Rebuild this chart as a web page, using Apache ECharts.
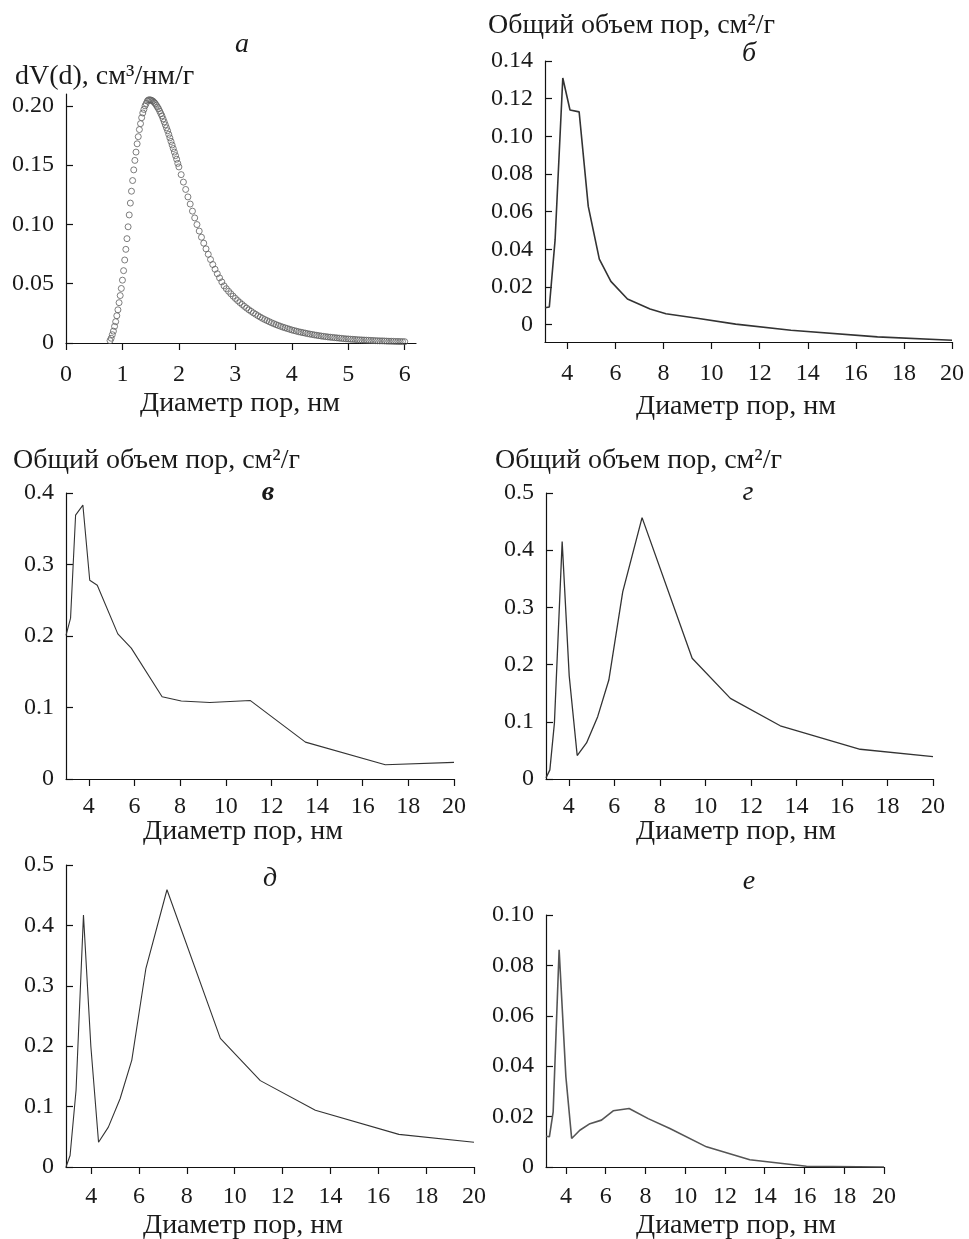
<!DOCTYPE html>
<html><head><meta charset="utf-8">
<script src="https://cdn.jsdelivr.net/npm/echarts@6/dist/echarts.min.js"></script>
<style>html,body{margin:0;padding:0;background:#fff}#c{width:969px;height:1239px}</style>
</head><body><div id="c"></div>
<script>
// ---------- DATA ----------
// panel а: dV(d) vs pore diameter (scatter of hollow circles)
const aDiameter = [
  0.78,0.80,0.82,0.84,0.86,0.88,0.90,0.92,0.94,0.96,0.98,1.00,1.02,1.04,1.06,1.08,1.10,1.12,1.14,1.16,1.18,1.20,1.22,1.24,1.26,1.28,1.30,1.32,1.34,1.36,1.38,1.40,1.42,1.44,1.46,1.48,
  1.50,1.52,1.54,1.56,1.58,1.60,1.62,1.64,1.66,1.68,1.70,1.72,1.74,1.76,1.78,1.80,1.82,1.84,1.86,1.88,1.90,1.92,1.94,1.96,1.98,2.00,
  2.04,2.08,2.12,2.16,2.20,2.24,2.28,2.32,2.36,2.40,2.44,2.48,2.52,2.56,2.60,2.64,2.68,2.72,2.76,2.80,
  2.84,2.88,2.92,2.96,3.00,3.04,3.08,3.12,3.16,3.20,3.24,3.28,3.32,3.36,3.40,3.44,3.48,3.52,3.56,3.60,
  3.64,3.68,3.72,3.76,3.80,3.84,3.88,3.92,3.96,4.00,4.04,4.08,4.12,4.16,4.20,4.24,4.28,4.32,4.36,4.40,
  4.44,4.48,4.52,4.56,4.60,4.64,4.68,4.72,4.76,4.80,4.84,4.88,4.92,4.96,5.00,5.04,5.08,5.12,5.16,5.20,
  5.24,5.28,5.32,5.36,5.40,5.44,5.48,5.52,5.56,5.60,5.64,5.68,5.72,5.76,5.80,5.84,5.88,5.92,5.96,6.00
];
const aVolume = [
  0.002,0.004,0.007,0.010,0.014,0.018,0.023,0.028,0.034,0.040,0.046,0.053,0.061,0.070,0.079,0.088,0.098,0.108,0.118,0.128,0.137,0.146,0.154,0.161,0.168,0.174,0.180,0.185,0.190,0.194,0.197,0.200,0.202,0.204,0.205,0.205,
  0.205,0.2045,0.204,0.203,0.202,0.2005,0.199,0.1975,0.1955,0.1935,0.1915,0.189,0.1865,0.184,0.1815,0.179,0.176,0.173,0.170,0.167,0.164,0.161,0.158,0.155,0.1515,0.1485,
  0.142,0.1357,0.1295,0.1232,0.1172,0.1112,0.1055,0.0999,0.0944,0.0892,0.0842,0.0794,0.0748,0.0704,0.0662,0.0622,0.0584,0.0549,0.0515,0.0482,
  0.0458,0.0436,0.0415,0.0395,0.0376,0.0358,0.0341,0.0325,0.0309,0.0294,0.0280,0.0267,0.0254,0.0242,0.0230,0.0219,0.0208,0.0198,0.0189,0.0180,
  0.0171,0.0163,0.0155,0.0148,0.0141,0.0134,0.0128,0.0122,0.0116,0.0110,0.0105,0.0100,0.0095,0.0091,0.0087,0.0083,0.0079,0.0075,0.0072,0.0068,
  0.0065,0.0062,0.0059,0.0056,0.0054,0.0051,0.0049,0.0047,0.0045,0.0043,0.0041,0.0039,0.0037,0.0035,0.0034,0.0032,0.0031,0.0030,0.0028,0.0027,
  0.0026,0.0025,0.0024,0.0023,0.0022,0.0021,0.0020,0.0019,0.0018,0.0018,0.0017,0.0016,0.0015,0.0015,0.0014,0.0013,0.0013,0.0012,0.0012,0.0011
];
// panel б
const bDiameter = [3.07,3.25,3.49,3.81,4.11,4.49,4.87,5.33,5.81,6.50,7.44,8.10,9.40,11.0,13.3,16.9,20.0];
const bVolume   = [0.009,0.0094,0.045,0.131,0.114,0.113,0.0628,0.0348,0.023,0.0136,0.0083,0.0058,0.0034,0.0003,-0.003,-0.0065,-0.0083];
// panel в
const vDiameter = [3.0,3.2,3.42,3.74,4.04,4.37,5.27,5.86,7.21,8.05,9.3,11.08,13.49,16.99,20.0];
const vVolume   = [0.201,0.225,0.369,0.383,0.278,0.271,0.203,0.183,0.115,0.109,0.107,0.1097,0.0516,0.020,0.0232];
// panel г
const gDiameter = [3.0,3.17,3.37,3.71,4.02,4.37,4.78,5.27,5.76,6.37,7.22,9.42,11.1,13.29,16.8,20.0];
const gVolume   = [0.002,0.016,0.098,0.415,0.18,0.041,0.063,0.109,0.173,0.327,0.457,0.211,0.141,0.093,0.052,0.039];
// panel д
const dDiameter = [2.95,3.12,3.37,3.68,3.99,4.31,4.72,5.21,5.70,6.29,7.17,9.40,11.07,13.37,16.86,20.0];
const dVolume   = [0.0,0.019,0.127,0.417,0.199,0.041,0.066,0.113,0.177,0.329,0.459,0.213,0.143,0.094,0.054,0.041];
// panel е
const eDiameter = [3.0,3.17,3.36,3.66,4.0,4.29,4.70,5.21,5.79,6.38,7.18,8.14,9.23,11.07,13.25,16.1,20.0];
const eVolume   = [0.0122,0.012,0.0219,0.0862,0.0358,0.0113,0.0146,0.0172,0.0186,0.0223,0.0232,0.0192,0.0153,0.008,0.0029,0.0003,0.0];

// tick values and labels
const aXTicks = [0,1,2,3,4,5,6];
const aXLabels = ['0','1','2','3','4','5','6'];
const aYTicks = [0,0.05,0.10,0.15,0.20];
const aYLabels = ['0','0.05','0.10','0.15','0.20'];
const dXTicks = [4,6,8,10,12,14,16,18,20];
const dXLabels = ['4','6','8','10','12','14','16','18','20'];
const bYTicks = [0,0.02,0.04,0.06,0.08,0.10,0.12,0.14];
const bYLabels = ['0','0.02','0.04','0.06','0.08','0.10','0.12','0.14'];
const vYTicks = [0,0.1,0.2,0.3,0.4];
const vYLabels = ['0','0.1','0.2','0.3','0.4'];
const gYTicks = [0,0.1,0.2,0.3,0.4,0.5];
const gYLabels = ['0','0.1','0.2','0.3','0.4','0.5'];
const eYTicks = [0,0.02,0.04,0.06,0.08,0.10];
const eYLabels = ['0','0.02','0.04','0.06','0.08','0.10'];

const xTitle = 'Диаметр пор, нм';
const yTitleA = 'dV(d), см³/нм/г';
const yTitleOther = 'Общий объем пор, см²/г';
const panelLetters = ['а','б','в','г','д','е'];

// ---------- CHART ----------
const FONT = "'Liberation Serif','DejaVu Serif',serif";
const chart = echarts.init(document.getElementById('c'), null, {renderer:'canvas'});

function lookup(ticks, labels){
  return function(v){
    for (let i=0;i<ticks.length;i++) if (Math.abs(ticks[i]-v) < 1e-9) return labels[i];
    return '';
  };
}
function xAxis(gi, min, max, ticks, labels, margin){
  return {
    type:'value', gridIndex:gi, min:min, max:max,
    axisLine:{show:true, onZero:false, lineStyle:{color:'#111', width:1.2}},
    axisTick:{show:true, inside:false, length:7, customValues:ticks, lineStyle:{color:'#111', width:1.2}},
    axisLabel:{show:true, customValues:ticks, formatter:lookup(ticks,labels), margin:margin,
      fontFamily:FONT, fontSize:24, color:'#1a1a1a'},
    splitLine:{show:false}
  };
}
function yAxis(gi, min, max, ticks, labels){
  return {
    type:'value', gridIndex:gi, min:min, max:max,
    axisLine:{show:true, onZero:false, lineStyle:{color:'#111', width:1.2}},
    axisTick:{show:true, inside:true, length:7, customValues:ticks, lineStyle:{color:'#111', width:1.2}},
    axisLabel:{show:true, customValues:ticks, formatter:lookup(ticks,labels), margin:12,
      fontFamily:FONT, fontSize:24, color:'#1a1a1a'},
    splitLine:{show:false}
  };
}
function zip(xs, ys){ return xs.map((x,i)=>[x, ys[i]]); }
function lineSeries(gi, xs, ys, color, w){
  return {type:'line', xAxisIndex:gi, yAxisIndex:gi, data:zip(xs,ys), symbol:'none', showSymbol:false,
    lineStyle:{color:color, width:w}, silent:true, smooth:false};
}
function txt(x, y, text, opts){
  opts = opts || {};
  return {type:'text', x:x, y:y, silent:true, style:{
    text:text, fill:'#1a1a1a', fontFamily:FONT, fontSize:opts.size||28,
    fontStyle:opts.italic?'italic':'normal', fontWeight:opts.bold?'bold':'normal',
    textAlign:opts.align||'center', align:opts.align||'center',
    textVerticalAlign:'middle', verticalAlign:'middle'}};
}

const option = {
  animation:false,
  backgroundColor:'#fff',
  grid:[
    {left:66, top:94, width:350, height:249},
    {left:545, top:61, width:407, height:281},
    {left:66, top:493, width:388, height:286},
    {left:546, top:493, width:387, height:286},
    {left:66, top:865, width:408, height:302},
    {left:546, top:915, width:338, height:252}
  ],
  xAxis:[
    xAxis(0, 0, 6.2, aXTicks, aXLabels, 20),
    xAxis(1, 3.07, 20, dXTicks, dXLabels, 20),
    xAxis(2, 3, 20, dXTicks, dXLabels, 16),
    xAxis(3, 3, 20, dXTicks, dXLabels, 16),
    xAxis(4, 2.95, 20, dXTicks, dXLabels, 18),
    xAxis(5, 3, 20, dXTicks, dXLabels, 18)
  ],
  yAxis:[
    yAxis(0, 0, 0.21, aYTicks, aYLabels),
    yAxis(1, -0.0092, 0.14, bYTicks, bYLabels),
    yAxis(2, 0, 0.4, vYTicks, vYLabels),
    yAxis(3, 0, 0.5, gYTicks, gYLabels),
    yAxis(4, 0, 0.5, gYTicks, gYLabels),
    yAxis(5, 0, 0.10, eYTicks, eYLabels)
  ],
  series:[
    {type:'scatter', xAxisIndex:0, yAxisIndex:0, data:zip(aDiameter,aVolume), symbol:'circle', symbolSize:6,
     itemStyle:{color:'rgba(255,255,255,0)', borderColor:'#5e5e5e', borderWidth:1}, silent:true},
    lineSeries(1, bDiameter, bVolume, '#333', 1.6),
    lineSeries(2, vDiameter, vVolume, '#333', 1.1),
    lineSeries(3, gDiameter, gVolume, '#333', 1.3),
    lineSeries(4, dDiameter, dVolume, '#333', 1.1),
    lineSeries(5, eDiameter, eVolume, '#555', 1.6)
  ],
  graphic:[
    txt(242, 45, panelLetters[0], {italic:true}),
    txt(15, 77, yTitleA, {align:'left'}),
    txt(240, 404, xTitle),
    txt(488, 26, yTitleOther, {align:'left'}),
    txt(749, 54, panelLetters[1], {italic:true}),
    txt(736, 407, xTitle),
    txt(13, 461, yTitleOther, {align:'left'}),
    txt(268, 493, panelLetters[2], {italic:true, bold:true}),
    txt(243, 832, xTitle),
    txt(495, 461, yTitleOther, {align:'left'}),
    txt(748, 493, panelLetters[3], {italic:true}),
    txt(736, 832, xTitle),
    txt(270, 879, panelLetters[4], {italic:true}),
    txt(243, 1226, xTitle),
    txt(749, 882, panelLetters[5], {italic:true}),
    txt(736, 1226, xTitle)
  ]
};
chart.setOption(option);
</script></body></html>
